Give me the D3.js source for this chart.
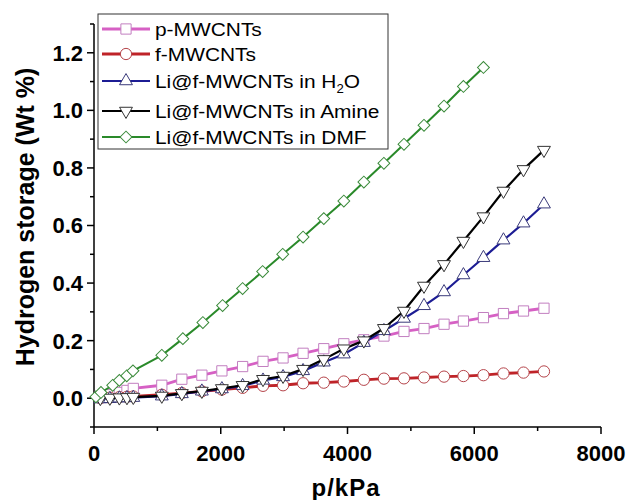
<!DOCTYPE html>
<html><head><meta charset="utf-8">
<script src="https://cdn.jsdelivr.net/npm/d3@7"></script>
<style>body{margin:0;background:#fff}svg{display:block}text{font-family:Arial,"Liberation Sans",sans-serif}</style>
</head><body>
<svg id="c" width="628" height="500"></svg>
<script>
const pressure = [100,250,400,520,620,1070,1386,1702,2018,2345,2667,2983,3299,3626,3942,4258,4575,4891,5207,5523,5829,6145,6461,6777,7100];
const pressureDMF = [30,110,295,400,517,615,1070,1402,1718,2029,2345,2661,2978,3299,3626,3942,4258,4574,4891,5207,5523,5829,6145];
const pMWCNTs = [0.005,0.012,0.020,0.027,0.034,0.045,0.066,0.080,0.095,0.110,0.128,0.140,0.156,0.172,0.189,0.203,0.216,0.232,0.242,0.257,0.268,0.280,0.294,0.303,0.3125];
const fMWCNTs = [0.000,0.002,0.004,0.005,0.006,0.012,0.018,0.024,0.030,0.036,0.043,0.045,0.052,0.054,0.058,0.064,0.068,0.069,0.072,0.075,0.077,0.080,0.086,0.089,0.093];
const liH2O = [-0.003,-0.002,0.000,0.001,0.002,0.007,0.015,0.024,0.032,0.043,0.062,0.074,0.095,0.125,0.153,0.193,0.234,0.277,0.321,0.369,0.428,0.488,0.549,0.608,0.674];
const liAmine = [0.000,0.001,0.002,0.003,0.004,0.008,0.017,0.025,0.034,0.045,0.066,0.077,0.101,0.135,0.172,0.200,0.243,0.303,0.390,0.465,0.546,0.631,0.720,0.795,0.862];
const liDMF = [0.005,0.020,0.045,0.062,0.078,0.095,0.149,0.207,0.263,0.322,0.381,0.440,0.500,0.560,0.624,0.685,0.751,0.816,0.882,0.948,1.015,1.083,1.149];
const seriesNames = ["p-MWCNTs","f-MWCNTs","Li@f-MWCNTs in H2O","Li@f-MWCNTs in Amine","Li@f-MWCNTs in DMF"];
const xTicks = [0,2000,4000,6000,8000];
const yTicks = [0.0,0.2,0.4,0.6,0.8,1.0,1.2];

const series = [
  {name:seriesNames[0], xs:pressure, ys:pMWCNTs, color:"#d660c4", mstroke:"#c27fc0", shape:"square", lw:2.8},
  {name:seriesNames[1], xs:pressure, ys:fMWCNTs, color:"#bf2328", mstroke:"#b5444a", shape:"circle", lw:2.8},
  {name:seriesNames[2], xs:pressure, ys:liH2O, color:"#1c1c94", mstroke:"#3a3a7a", shape:"up", lw:2.2},
  {name:seriesNames[3], xs:pressure, ys:liAmine, color:"#000000", mstroke:"#333333", shape:"down", lw:2.2},
  {name:seriesNames[4], xs:pressureDMF, ys:liDMF, color:"#2a8a2a", mstroke:"#3a8a3a", shape:"diamond", lw:2}
];

const svg = d3.select("#c");
const x = d3.scaleLinear().domain([0,8000]).range([94,601]);
const y = d3.scaleLinear().domain([-0.1,1.3]).range([427,24]);

// axes
const xAxis = svg.append("g").attr("transform","translate(0,427)");
xAxis.append("line").attr("x1",x(0)).attr("x2",x(8000)).attr("stroke","#000").attr("stroke-width",1.5);
d3.range(0,8001,1000).forEach(v=>{
  const major = v%2000===0;
  xAxis.append("line").attr("x1",x(v)).attr("x2",x(v)).attr("y1",0).attr("y2",major?7:4).attr("stroke","#000").attr("stroke-width",1.5);
});
xAxis.selectAll("text.t").data(xTicks).join("text").attr("class","t")
  .attr("x",d=>x(d)).attr("y",34).attr("text-anchor","middle")
  .attr("font-size",22).attr("font-weight","bold").text(d=>d);

const yAxis = svg.append("g").attr("transform","translate(94,0)");
yAxis.append("line").attr("y1",y(-0.1)).attr("y2",y(1.3)).attr("stroke","#000").attr("stroke-width",1.5);
d3.range(-1,14).forEach(i=>{
  const v=i/10; const major = i%2===0;
  yAxis.append("line").attr("x1",0).attr("x2",major?-7:-4).attr("y1",y(v)).attr("y2",y(v)).attr("stroke","#000").attr("stroke-width",1.5);
});
yAxis.selectAll("text.t").data(yTicks).join("text").attr("class","t")
  .attr("x",-11).attr("y",d=>y(d)).attr("dy","0.36em").attr("text-anchor","end")
  .attr("font-size",22).attr("font-weight","bold").text(d=>d.toFixed(1));

svg.append("text").attr("x",346).attr("y",496).attr("text-anchor","middle")
  .attr("font-size",24).attr("font-weight","bold").attr("letter-spacing",1).text("p/kPa");
svg.append("text").attr("transform","translate(34,217) rotate(-90)").attr("text-anchor","middle")
  .attr("font-size",25).attr("font-weight","bold").text("Hydrogen storage (Wt %)");

function marker(g, shape, cx, cy, stroke){
  let s;
  if(shape==="square") s=d3.symbol(d3.symbolSquare,105);
  else if(shape==="circle") s=d3.symbol(d3.symbolCircle,100);
  else if(shape==="up"||shape==="down") s=d3.symbol(d3.symbolTriangle,72);
  else s=d3.symbol(d3.symbolSquare,70);
  const rot = shape==="down"?180:(shape==="diamond"?45:0);
  g.append("path").attr("d",s()).attr("transform",`translate(${cx},${cy}) rotate(${rot})`)
    .attr("fill","#fff").attr("stroke",stroke).attr("stroke-width",1);
}

const line = d3.line().x(d=>x(d[0])).y(d=>y(d[1]));
series.forEach(s=>{
  const pts = s.xs.map((v,i)=>[v,s.ys[i]]);
  const g = svg.append("g");
  g.append("path").attr("d",line(pts)).attr("fill","none").attr("stroke",s.color).attr("stroke-width",s.lw);
  pts.forEach(p=>marker(g,s.shape,x(p[0]),y(p[1]),s.mstroke));
});

// legend
const lg = svg.append("g");
lg.append("rect").attr("x",98).attr("y",14).attr("width",290).attr("height",135).attr("fill","#fff").attr("stroke","#333").attr("stroke-width",1);
const rowsY = [29,54,81,111,137];
series.forEach((s,i)=>{
  const yy = rowsY[i];
  lg.append("line").attr("x1",102).attr("x2",150).attr("y1",yy).attr("y2",yy).attr("stroke",s.color).attr("stroke-width",s.lw);
  marker(lg,s.shape,126,yy,s.mstroke);
  const t = lg.append("text").attr("x",0).attr("y",0).attr("font-size",19)
    .attr("transform",`translate(155,${yy+7}) scale(1.1,1)`);
  if(i===2){
    t.append("tspan").text("Li@f-MWCNTs in H");
    t.append("tspan").attr("font-size",12).attr("dy",5).text("2");
    t.append("tspan").attr("dy",-5).text("O");
  } else t.text(s.name);
});
</script>
</body></html>
